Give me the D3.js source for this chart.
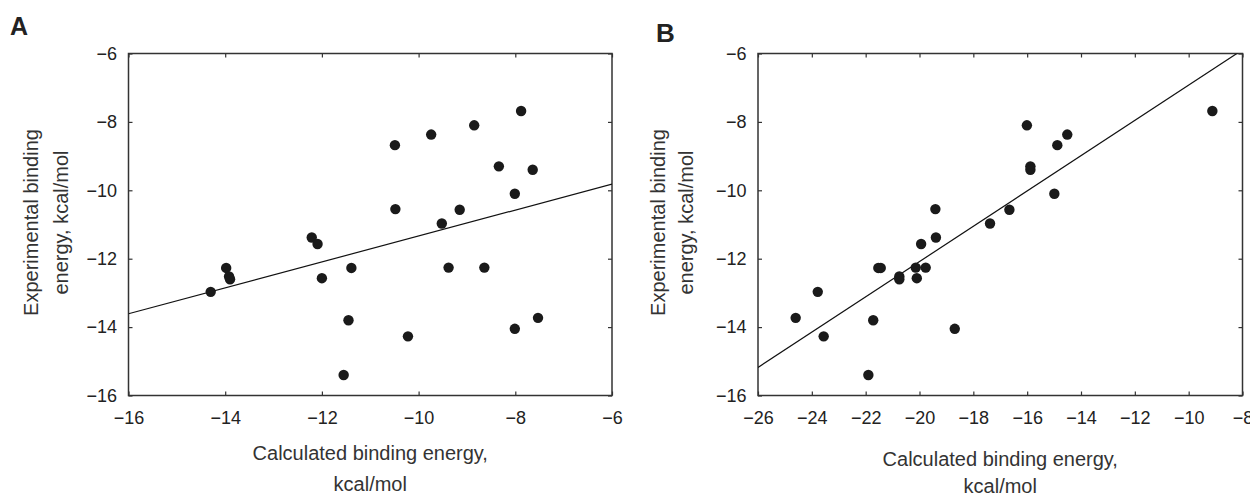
<!DOCTYPE html>
<html>
<head>
<meta charset="utf-8">
<script src="https://cdn.jsdelivr.net/npm/d3@7"></script>
<style>
  body { margin: 0; background: #fff; }
  svg { display: block; font-family: "Liberation Sans", Arial, sans-serif; }
  .tick text { font-size: 18px; fill: #222; }
  .tick line { stroke: #333; stroke-width: 1.2; }
  .title { font-size: 20px; fill: #333; }
</style>
</head>
<body>
<svg width="1250" height="498"></svg>
<script>
// experimental binding energy (kcal/mol), one value per compound
const expEnergy = [-7.68, -8.10, -8.37, -8.68, -9.30, -9.40, -10.10, -10.55, -10.57, -10.97,
  -11.38, -11.57, -12.27, -12.27, -12.26, -12.26, -12.52, -12.60, -12.57, -12.97,
  -13.73, -13.80, -14.05, -14.27, -15.40];
// calculated binding energy, method A and method B
const calcA = [-7.88, -8.85, -9.74, -10.49, -8.34, -7.64, -8.01, -10.48, -9.15, -9.52,
  -12.21, -12.09, -13.98, -11.39, -9.38, -8.64, -13.92, -13.90, -12.00, -14.30,
  -7.53, -11.45, -8.01, -10.22, -11.55];
const calcB = [-9.12, -16.01, -14.51, -14.88, -15.88, -15.88, -14.99, -19.41, -16.66, -17.38,
  -19.39, -19.94, -21.53, -21.44, -20.14, -19.77, -20.75, -20.75, -20.10, -23.78,
  -24.60, -21.72, -18.69, -23.56, -21.90];

const xTicksA = [-16, -14, -12, -10, -8, -6];
const xTicksB = [-26, -24, -22, -20, -18, -16, -14, -12, -10, -8];
const yTicks = [-6, -8, -10, -12, -14, -16];

// linear fit lines
const fitSlope = [0.379, 0.516];
const fitIntercept = [-7.546, -1.764];
const panelLabels = ["A", "B"];

const svg = d3.select("svg");
const fmt = d3.format("d");

const panels = [
  { id: 0, calc: calcA, xTicks: xTicksA, left: 128.5, right: 612,
    letter: [10, 35, "bold", 25], yTitleX: [38, 68], xTitleY: [460, 491] },
  { id: 1, calc: calcB, xTicks: xTicksB, left: 758, right: 1242.5,
    letter: [656, 42, "bold", 26], yTitleX: [665, 693], xTitleY: [466, 493] }
];
const plotTop = 53.5, plotBottom = 395.5;

panels.forEach(p => {
  const g = svg.append("g");
  const x = d3.scaleLinear()
    .domain(d3.extent(p.xTicks))
    .range([p.left, p.right]);
  const y = d3.scaleLinear()
    .domain(d3.extent(yTicks))
    .range([plotBottom, plotTop]);

  g.append("g")
    .attr("transform", `translate(0,${plotBottom})`)
    .call(d3.axisBottom(x).tickValues(p.xTicks).tickSize(-4).tickPadding(16).tickFormat(fmt));
  g.append("g")
    .attr("transform", `translate(0,${plotTop})`)
    .call(d3.axisTop(x).tickValues(p.xTicks).tickSize(-4).tickFormat(""));
  g.append("g")
    .attr("transform", `translate(${p.left},0)`)
    .call(d3.axisLeft(y).tickValues(yTicks).tickSize(-4).tickPadding(11.5).tickFormat(fmt));
  g.append("g")
    .attr("transform", `translate(${p.right},0)`)
    .call(d3.axisRight(y).tickValues(yTicks).tickSize(-4).tickFormat(""));
  g.selectAll(".domain").remove();
  g.selectAll("g").attr("font-family", null).attr("font-size", null);

  g.append("rect")
    .attr("x", p.left).attr("y", plotTop)
    .attr("width", p.right - p.left).attr("height", plotBottom - plotTop)
    .attr("fill", "none").attr("stroke", "#333").attr("stroke-width", 1.5);

  // fit line, clipped to plot box
  g.append("clipPath").attr("id", "clip" + p.id)
    .append("rect")
    .attr("x", p.left).attr("y", plotTop)
    .attr("width", p.right - p.left).attr("height", plotBottom - plotTop);
  const line = d3.line().x(d => x(d)).y(d => y(fitSlope[p.id] * d + fitIntercept[p.id]));
  g.append("path")
    .attr("clip-path", `url(#clip${p.id})`)
    .attr("d", line(x.domain()))
    .attr("fill", "none").attr("stroke", "#111").attr("stroke-width", 1.2);

  g.selectAll("circle")
    .data(p.calc.map((c, i) => [c, expEnergy[i]]))
    .join("circle")
    .attr("cx", d => x(d[0]))
    .attr("cy", d => y(d[1]))
    .attr("r", 5.2)
    .attr("fill", "#1a1a1a");

  // panel letter
  g.append("text")
    .attr("x", p.letter[0]).attr("y", p.letter[1])
    .attr("font-size", p.letter[3]).attr("font-weight", p.letter[2])
    .attr("fill", "#222")
    .text(panelLabels[p.id]);

  // y title
  const cy = (plotTop + plotBottom) / 2 - 2;
  ["Experimental binding", "energy, kcal/mol"].forEach((t, i) => {
    g.append("text").attr("class", "title")
      .attr("transform", `translate(${p.yTitleX[i]},${cy}) rotate(-90)`)
      .attr("text-anchor", "middle")
      .text(t);
  });

  // x title
  const cx = (p.left + p.right) / 2;
  ["Calculated binding energy,", "kcal/mol"].forEach((t, i) => {
    g.append("text").attr("class", "title")
      .attr("x", cx).attr("y", p.xTitleY[i])
      .attr("text-anchor", "middle")
      .text(t);
  });
});
</script>
</body>
</html>
